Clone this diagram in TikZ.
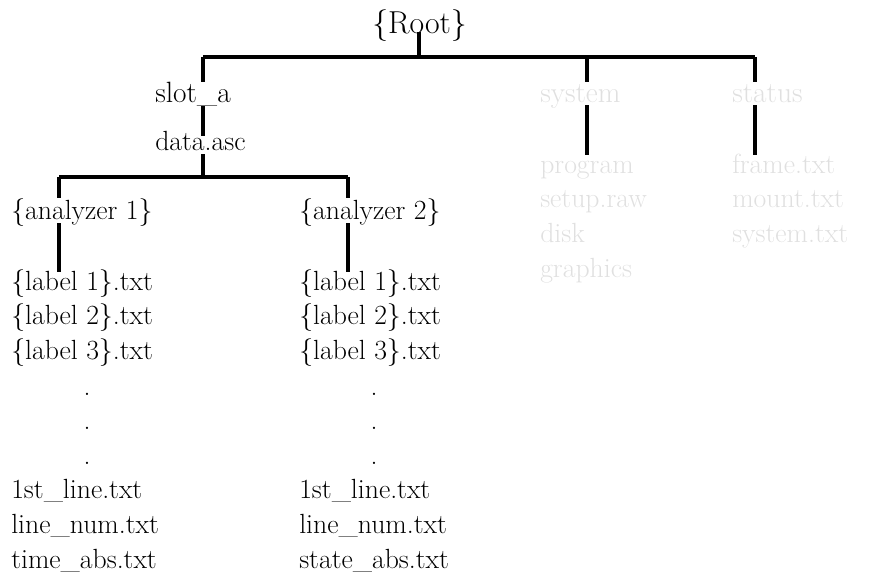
\documentclass[tikz,border=0pt]{standalone}
\usepackage{fontspec}
\begin{document}
\begin{tikzpicture}[x=0.75pt,y=-0.75pt,
  txt/.style={inner sep=0pt,anchor=base west,font=\fontsize{20.8}{25}\selectfont},
  big/.style={txt,font=\fontsize{22}{26}\selectfont},
  huge/.style={txt,font=\fontsize{23.8}{28}\selectfont},
  dim/.style={text=black!12},
  conn/.style={line width=2.3pt,line cap=butt}]
\useasboundingbox (0,0) rectangle (869,572);
% texts
\node[huge] (root) at (372,33) {\{Root\}};
\node[big] (slot) at (155,102) {slot\_a};
\node[txt] (data) at (155,150) {data.asc};
\node[big,dim] (sys) at (540,102) {system};
\node[big,dim] (stat) at (732,102) {status};
\node[txt,dim] (prog) at (540,173) {program};
\node[txt,dim] (setup) at (540,207.5) {setup.raw};
\node[txt,dim] (disk) at (540,242) {disk};
\node[txt,dim] (graph) at (540,277) {graphics};
\node[txt,dim] (frame) at (732,173) {frame.txt};
\node[txt,dim] (mount) at (732,207.5) {mount.txt};
\node[txt,dim] (systxt) at (732,242) {system.txt};
\node[txt] (an1) at (11,219) {\{analyzer 1\}};
\node[txt] (an2) at (299,219) {\{analyzer 2\}};
\foreach \c/\t/\lastA/\lastB/\lastC in {11/a/1st\_line.txt/line\_num.txt/time\_abs.txt,299/b/1st\_line.txt/line\_num.txt/state\_abs.txt}{
  \node[txt] (l1\t) at (\c,290) {\{label 1\}.txt};
  \node[txt] (l2\t) at (\c,324.75) {\{label 2\}.txt};
  \node[txt] (l3\t) at (\c,359.5) {\{label 3\}.txt};
  \node[txt] (f1\t) at (\c,498.5) {\lastA};
  \node[txt] (f2\t) at (\c,533.25) {\lastB};
  \node[txt] (f3\t) at (\c,568) {\lastC};
}
\foreach \i/\y in {1/395,2/429.5,3/464}{
  \node[txt,anchor=base] (da\i) at (87,\y) {.};
  \node[txt,anchor=base] (db\i) at (374,\y) {.};
}
% connector coordinates
\coordinate (rtop) at (419,32);
\coordinate (rj) at (419,57);
\coordinate (hl) at (203,57);
\coordinate (hr) at (755,57);
\coordinate (sysj) at (587,57);
\coordinate (slotin) at (203,82);
\coordinate (sysin) at (587,82);
\coordinate (statin) at (755,82);
\coordinate (slotout) at (203,106);
\coordinate (datain) at (203,136);
\coordinate (dataout) at (203,154);
\coordinate (dj) at (203,177);
\coordinate (al) at (59,177);
\coordinate (ar) at (348,177);
\coordinate (a1in) at (59,198);
\coordinate (a2in) at (348,198);
\coordinate (a1out) at (59,223);
\coordinate (a2out) at (348,223);
\coordinate (l1ain) at (59,272);
\coordinate (l1bin) at (348,272);
\coordinate (sysout) at (587,105);
\coordinate (statout) at (755,105);
\coordinate (progin) at (587,155);
\coordinate (framein) at (755,155);
% connectors
\draw[conn] (rtop) -- (rj);
\draw[conn] (hl) -- (hr);
\draw[conn] (hl) -- (slotin);
\draw[conn] (sysj) -- (sysin);
\draw[conn] (hr) -- (statin);
\draw[conn] (slotout) -- (datain);
\draw[conn] (dataout) -- (dj);
\draw[conn] (al) -- (ar);
\draw[conn] (al) -- (a1in);
\draw[conn] (ar) -- (a2in);
\draw[conn] (a1out) -- (l1ain);
\draw[conn] (a2out) -- (l1bin);
\draw[conn] (sysout) -- (progin);
\draw[conn] (statout) -- (framein);
\end{tikzpicture}
\end{document}
